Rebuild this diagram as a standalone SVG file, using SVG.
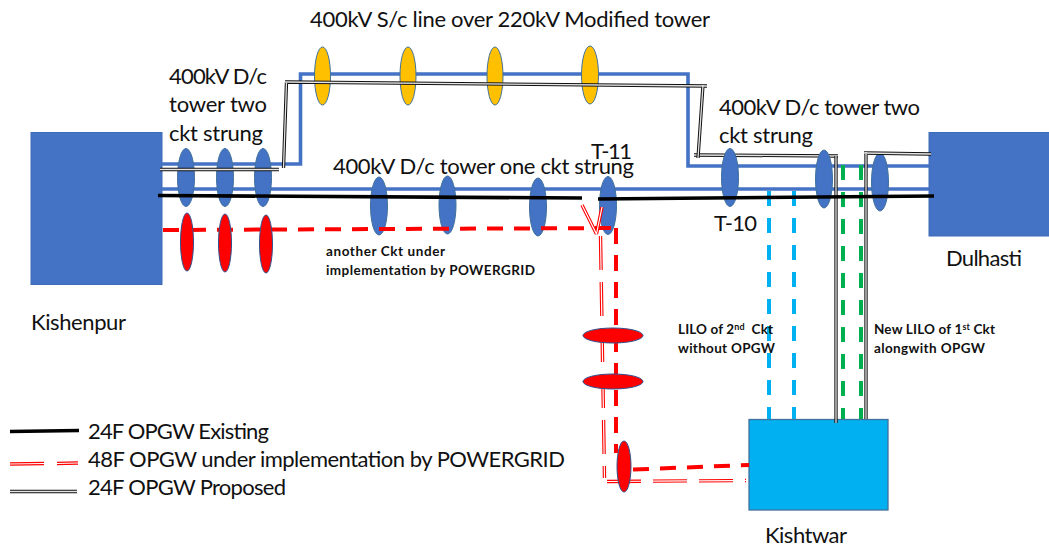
<svg xmlns="http://www.w3.org/2000/svg" width="1049" height="549" viewBox="0 0 1049 549">
<style>
text{font-family:"Lato","Open Sans","Liberation Sans",sans-serif;fill:#111}
.l{font-size:22px}
.s{font-size:13.5px;font-weight:700}
.sup{font-size:9px}
.box{fill:#4472C4;stroke:#3F6CB8;stroke-width:1}
.cyanbox{fill:#00B0F0;stroke:#41719C;stroke-width:1.3}
.b{fill:#4472C4;stroke:#41719C;stroke-width:1}
.y{fill:#FFC000;stroke:#41719C;stroke-width:1}
.r{fill:#FF0000;stroke:#2F528F;stroke-width:1}
path{fill:none}
.blue{stroke:#4472C4;stroke-width:3.6}
.blk{stroke:#000;stroke-width:3.6}
.dk{stroke:#111;stroke-width:3.3}
.dw{stroke:#e4e4e4;stroke-width:1.3}
.rd{stroke:#F00;stroke-width:4}
.d27{stroke-dasharray:16 11}
.rdk{stroke:#F00;stroke-width:3.4}
.rdw{stroke:#fff;stroke-width:1.2}
.cy{stroke:#00B0F0;stroke-width:4;stroke-dasharray:15 12}
.gr{stroke:#00B050;stroke-width:4;stroke-dasharray:15 12}
.d46{stroke-dasharray:34 12}
</style>
<defs>
<path id="p1" d="M694 155L838 156"/>
<path id="p2" d="M160 169.500L279 169.500M283.500 168L286.500 82M285 82L707 86M703 85L698 158"/>
<path id="p3" d="M836 156L836 423M866 152L866 419M864 153L931 154"/>
<path id="q1" d="M582 205L596.500 234M602 207L596.500 234"/>
<path id="q2" d="M600.500 236L604.500 478"/>
<path id="q3" d="M607 481.500L746 480.500"/>
</defs>
<g id="kishenpur"><rect class="box" x="31" y="132.500" width="131" height="152"/><text class="l" x="31" y="330" textLength="95">Kishenpur</text></g>
<g id="dulhasti"><rect class="box" x="929" y="132.500" width="121" height="103.500"/><text class="l" x="946" y="266" textLength="76">Dulhasti</text></g>
<g id="connectors-back">
<path class="blue" d="M162 164H300.500V74H688V166H929"/>
<path class="blue" d="M162 189H929"/>
<use href="#p1" class="dk"/><use href="#p1" class="dw"/>
</g>
<g id="tower-b1"><ellipse class="b" cx="186" cy="177.500" rx="8.500" ry="29"/></g>
<g id="tower-b2"><ellipse class="b" cx="225" cy="177.500" rx="8.500" ry="29"/></g>
<g id="tower-b3"><ellipse class="b" cx="263" cy="177.500" rx="8.500" ry="29"/></g>
<g id="tower-b4"><ellipse class="b" cx="379" cy="206" rx="8.500" ry="29"/></g>
<g id="tower-b5"><ellipse class="b" cx="447.500" cy="205" rx="8.500" ry="29"/></g>
<g id="tower-b6"><ellipse class="b" cx="538" cy="207" rx="8.500" ry="29"/></g>
<g id="tower-t11"><ellipse class="b" cx="608" cy="205.500" rx="8.500" ry="29"/><text class="l" x="591" y="159" textLength="41">T-11</text></g>
<g id="tower-t10"><ellipse class="b" cx="730" cy="177.500" rx="8.500" ry="29"/><text class="l" x="714" y="231" textLength="43">T-10</text></g>
<g id="tower-b7"><ellipse class="b" cx="824" cy="179" rx="8.500" ry="29"/></g>
<g id="tower-b8"><ellipse class="b" cx="880" cy="182" rx="8.500" ry="29"/></g>
<g id="tower-y1"><ellipse class="y" cx="322.500" cy="76" rx="8" ry="29"/></g>
<g id="tower-y2"><ellipse class="y" cx="408" cy="76" rx="8" ry="29"/></g>
<g id="tower-y3"><ellipse class="y" cx="495" cy="76" rx="8" ry="29"/></g>
<g id="tower-y4"><ellipse class="y" cx="590" cy="75" rx="8.500" ry="29"/></g>
<g id="kishtwar"><rect class="cyanbox" x="749" y="419.500" width="139" height="90.500"/><text class="l" x="765" y="543" textLength="82">Kishtwar</text></g>
<g id="connectors">
<path class="cy" d="M769 191V419"/>
<path class="cy" d="M794 191V419"/>
<path class="gr" d="M843 165V419"/>
<path class="gr" d="M861 165V419"/>
<use href="#p2" class="dk"/><use href="#p2" class="dw"/>
<use href="#p3" class="dk"/><use href="#p3" class="dw"/>
<path class="blk" d="M158 195.500L582 198"/>
<path class="blk" d="M598 199L934 196"/>
<path class="rd d27" d="M163 230L616 228"/>
<path class="rd d27" d="M616 228V453"/>
<path class="rd d27" d="M633 469.500L749 465"/>
<use href="#q1" class="rdk"/><use href="#q1" class="rdw"/>
<use href="#q2" class="rdk d46"/><use href="#q2" class="rdw d46"/>
<use href="#q3" class="rdk d46"/><use href="#q3" class="rdw d46"/>
</g>
<g id="tower-r1"><ellipse class="r" cx="187" cy="242" rx="6.500" ry="29"/></g>
<g id="tower-r2"><ellipse class="r" cx="225" cy="243" rx="6.500" ry="29"/></g>
<g id="tower-r3"><ellipse class="r" cx="266" cy="244" rx="6.500" ry="29"/></g>
<g id="tower-r4"><ellipse class="r" cx="613" cy="335.500" rx="30" ry="7.500"/></g>
<g id="tower-r5"><ellipse class="r" cx="613" cy="381.500" rx="30" ry="7.500"/></g>
<g id="tower-r6"><ellipse class="r" cx="624" cy="466.500" rx="7" ry="25.500"/></g>
<g id="labels">
<text class="l" x="310" y="27" textLength="400">400kV S/c line over 220kV Modified tower</text>
<text class="l" x="169" y="84" textLength="98">400kV D/c</text>
<text class="l" x="169" y="112" textLength="98">tower two</text>
<text class="l" x="169" y="141" textLength="94">ckt strung</text>
<text class="l" x="333" y="174" textLength="301">400kV D/c tower one ckt strung</text>
<text class="l" x="719" y="115" textLength="201">400kV D/c tower two</text>
<text class="l" x="719" y="143" textLength="94">ckt strung</text>
<text class="s" x="326" y="256" textLength="119">another Ckt under</text>
<text class="s" x="326" y="275" textLength="209">implementation by POWERGRID</text>
<text class="s" x="678" y="334" textLength="95" xml:space="preserve">LILO of 2<tspan class="sup" dy="-4">nd</tspan><tspan dy="4">  Ckt</tspan></text>
<text class="s" x="678" y="353" textLength="97">without OPGW</text>
<text class="s" x="874" y="334" textLength="121">New LILO of 1<tspan class="sup" dy="-4">st</tspan><tspan dy="4"> Ckt</tspan></text>
<text class="s" x="874" y="353" textLength="111">alongwith OPGW</text>
</g>
<g id="legend">
<path class="blk" d="M10 431.500L79 430.500"/>
<path class="rdk" d="M10 464L44 463.500M57 463.500L78 463"/>
<path class="rdw" d="M10 464L44 463.500M57 463.500L78 463"/>
<path class="dk" d="M10 491.500H77"/>
<path class="dw" d="M10 491.500H77"/>
<text class="l" x="88" y="439" textLength="181">24F OPGW Existing</text>
<text class="l" x="88" y="467" textLength="477">48F OPGW under implementation by POWERGRID</text>
<text class="l" x="88" y="495" textLength="198">24F OPGW Proposed</text>
</g>
</svg>
